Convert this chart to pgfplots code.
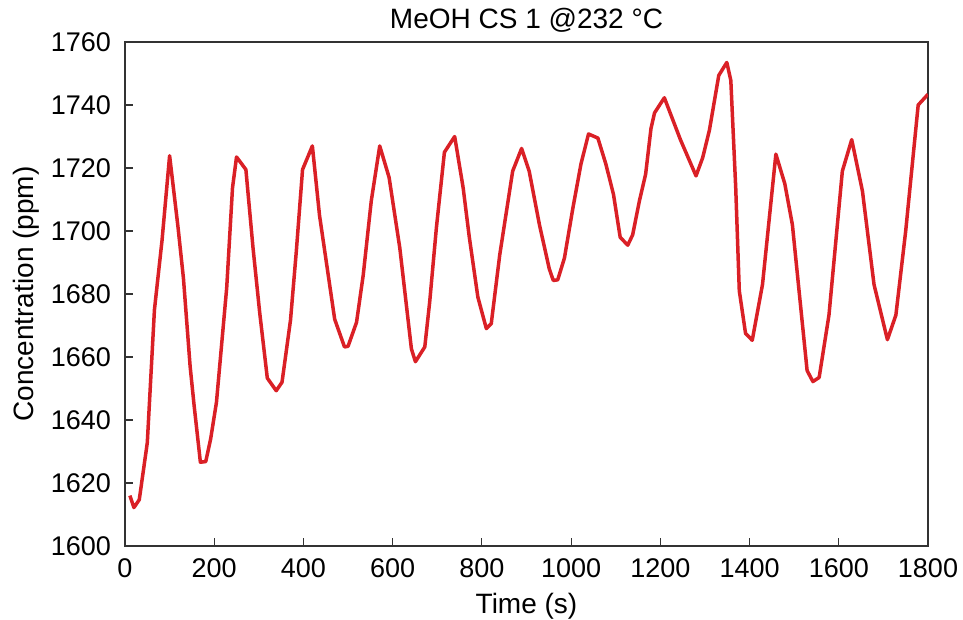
\documentclass[border=0pt]{standalone}
\usepackage{fontspec}
\setmainfont{Liberation Sans}
\usepackage{pgfplots}
\pgfplotsset{compat=1.18}
\definecolor{lineRed}{RGB}{218,32,38}
\begin{document}
\begin{tikzpicture}
\begin{axis}[
  scale only axis,
  width=401.5pt, height=252pt,
  xmin=0, xmax=1800, ymin=1600, ymax=1760,
  xtick={0,200,...,1800},
  ytick={1600,1620,...,1760},
  xtick pos=bottom, ytick pos=left,
  tick align=inside,
  major tick length=4pt,
  axis line style={draw=black!80, line width=0.6pt},
  every tick/.style={draw=black!80, line width=0.6pt},
  /pgf/number format/assume math mode=true,
  /pgf/number format/1000 sep={},
  tick label style={font=\fontsize{13.5}{16}\selectfont},
  xticklabel style={yshift=-2.7pt},
  yticklabel style={xshift=-3.5pt},
  label style={font=\fontsize{14}{16}\selectfont},
  xlabel={Time (s)},
  ylabel={Concentration (ppm)},
  xlabel style={yshift=-1pt},
  ylabel style={yshift=-1pt},
  title={MeOH CS 1 @232 °C},
  title style={font=\fontsize{14}{16}\selectfont, at={(0.5,1)}, anchor=base, inner sep=0pt, yshift=0.5pt},
]
\addplot[lineRed, line width=1.75pt, line join=round] coordinates {
(11,1616) (20,1612.2) (32,1614.7) (50,1632.8) (66,1675) (83,1697)
(100,1723.9) (119,1701) (131,1685) (146,1657) (155,1644.5) (169,1626.6)
(181,1626.8) (192,1634) (205,1645.6) (228,1682) (241,1713.7) (250,1723.5)
(271,1719.5) (287,1694.6) (302,1674) (319,1653.3) (339,1649.3) (352,1652)
(371,1671.7) (384,1693.5) (398,1719.5) (420,1727) (436,1705) (470,1672)
(492,1663.2) (500,1663.4) (519,1671) (534,1686) (552,1709.5) (571,1727)
(592,1717) (616,1694.6) (642,1662.6) (651,1658.5) (672,1663.2) (683,1677.5)
(698,1701) (716,1725) (739,1730) (758,1713.7) (772,1697.8) (791,1679)
(810,1669) (821,1670.6) (840,1692.4) (869,1719) (889,1726.2) (906,1719)
(929,1702) (951,1688) (960,1684.3) (970,1684.5) (985,1691.4) (1004,1707.3)
(1022,1721.2) (1039,1730.8) (1060,1729.5) (1078,1721.2) (1095,1711.6) (1110,1698)
(1127,1695.5) (1138,1698.8) (1153,1709.5) (1167,1718) (1179,1732.5) (1187,1737.5)
(1209,1742.3) (1245,1729) (1280,1717.5) (1295,1723.3) (1310,1732) (1331,1749.4)
(1349,1753.5) (1358,1747.8) (1369,1713.7) (1377,1681) (1391,1667.5) (1406,1665.3)
(1429,1683) (1459,1724.4) (1479,1715) (1496,1702) (1529,1655.7) (1542,1652.2)
(1556,1653.5) (1578,1673.3) (1608,1719) (1629,1729) (1653,1712.7) (1679,1683)
(1709,1665.5) (1728,1673.3) (1750,1700) (1778,1740) (1800,1743.4)
};
\end{axis}
\pgfresetboundingbox
\path (-62.5pt,-37pt) rectangle (419pt,273pt);
\end{tikzpicture}
\end{document}
